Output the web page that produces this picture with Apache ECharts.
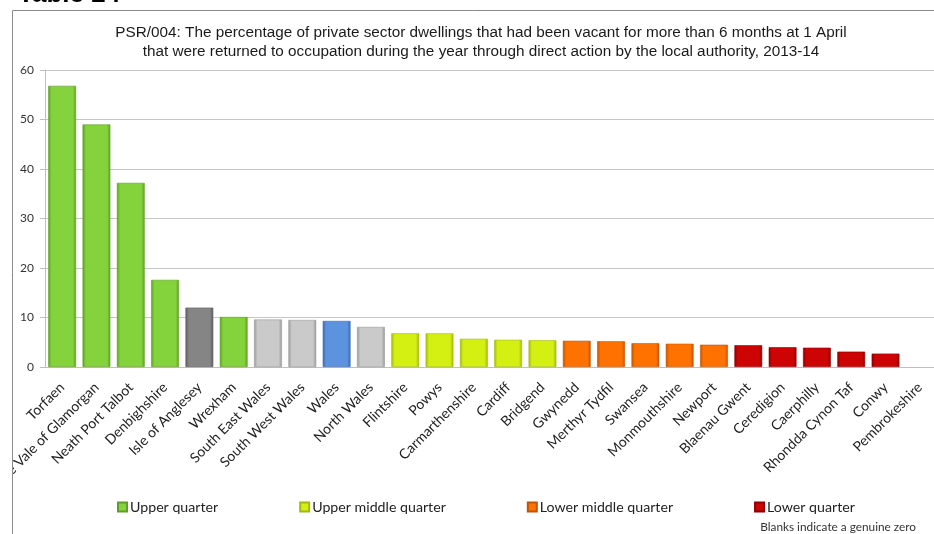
<!DOCTYPE html>
<html>
<head>
<meta charset="utf-8">
<script src="https://cdn.jsdelivr.net/npm/echarts@6/dist/echarts.min.js"></script>
<style>
  html, body { margin: 0; padding: 0; background: #fff; }
  #chart { width: 934px; height: 534px; }
</style>
</head>
<body>
<div id="chart"></div>
<script>
// Local authorities and regional aggregates, sorted by value
const categories = [
  'Torfaen', 'The Vale of Glamorgan', 'Neath Port Talbot', 'Denbighshire', 'Isle of Anglesey',
  'Wrexham', 'South East Wales', 'South West Wales', 'Wales', 'North Wales',
  'Flintshire', 'Powys', 'Carmarthenshire', 'Cardiff', 'Bridgend',
  'Gwynedd', 'Merthyr Tydfil', 'Swansea', 'Monmouthshire', 'Newport',
  'Blaenau Gwent', 'Ceredigion', 'Caerphilly', 'Rhondda Cynon Taf', 'Conwy',
  'Pembrokeshire'
];

// Percentage returned to occupation, 2013-14
const values = [
  56.8, 49.0, 37.2, 17.6, 12.0,
  10.1, 9.6, 9.5, 9.3, 8.1,
  6.8, 6.8, 5.7, 5.5, 5.4,
  5.3, 5.2, 4.8, 4.7, 4.5,
  4.4, 4.0, 3.9, 3.1, 2.7,
  0
];

// Quarter / grouping of each bar
const groups = [
  'Upper quarter', 'Upper quarter', 'Upper quarter', 'Upper quarter', 'Isle grey',
  'Upper quarter', 'Region', 'Region', 'Wales', 'Region',
  'Upper middle quarter', 'Upper middle quarter', 'Upper middle quarter', 'Upper middle quarter', 'Upper middle quarter',
  'Lower middle quarter', 'Lower middle quarter', 'Lower middle quarter', 'Lower middle quarter', 'Lower middle quarter',
  'Lower quarter', 'Lower quarter', 'Lower quarter', 'Lower quarter', 'Lower quarter',
  'Lower quarter'
];

const legendNames = ['Upper quarter', 'Upper middle quarter', 'Lower middle quarter', 'Lower quarter'];
const yTicks = [0, 10, 20, 30, 40, 50, 60];

const groupColors = {
  'Upper quarter':        ['#84d23c', '#5e9f22'],
  'Upper middle quarter': ['#d4f012', '#a3b80a'],
  'Lower middle quarter': ['#ff7200', '#c25400'],
  'Lower quarter':        ['#cc0404', '#8e0000'],
  'Isle grey':            ['#858585', '#5c5c5c'],
  'Region':               ['#cacaca', '#999999'],
  'Wales':                ['#5b93de', '#3a6aae']
};

function bevel(main, dark) {
  return new echarts.graphic.LinearGradient(0, 0, 1, 0, [
    { offset: 0, color: dark },
    { offset: 0.12, color: main },
    { offset: 0.88, color: main },
    { offset: 1, color: dark }
  ]);
}

const seriesOrder = ['Upper quarter', 'Upper middle quarter', 'Lower middle quarter', 'Lower quarter', 'Isle grey', 'Region', 'Wales'];
const series = seriesOrder.map(g => ({
  name: g,
  type: 'bar',
  stack: 'all',
  barCategoryGap: '19%',
  data: values.map((v, i) => groups[i] === g && v > 0 ? v : '-'),
  itemStyle: {
    color: bevel(groupColors[g][0], groupColors[g][1]),
    borderColor: groupColors[g][1],
    borderWidth: 0.6
  }
}));

const chart = echarts.init(document.getElementById('chart'), null, { renderer: 'canvas' });
chart.setOption({
  animation: false,
  backgroundColor: '#ffffff',
  title: {
    text: 'PSR/004: The percentage of private sector dwellings that had been vacant for more than 6 months at 1 April\nthat were returned to occupation during the year through direct action by the local authority, 2013-14',
    left: 481,
    top: 23,
    textAlign: 'center',
    padding: 0,
    textStyle: {
      fontFamily: 'Liberation Sans',
      fontSize: 15.3,
      fontWeight: 'normal',
      color: '#1a1a1a',
      lineHeight: 19.5
    }
  },
  legend: {
    data: legendNames.map(n => ({ name: n, icon: 'rect' })),
    left: 117,
    top: 500,
    padding: 0,
    itemWidth: 9,
    itemHeight: 9,
    itemGap: 81,
    textStyle: { fontFamily: 'Lato', fontSize: 14.2, color: '#222', padding: [0, 0, 0, -2] }
  },
  grid: { left: 45, top: 70, width: 892, height: 297, containLabel: false, outerBoundsMode: 'none' },
  xAxis: {
    type: 'category',
    data: categories,
    axisLine: { lineStyle: { color: '#bfbfbf' } },
    axisTick: { show: false },
    axisLabel: {
      interval: 0,
      rotate: 45,
      margin: 18,
      fontFamily: 'Lato',
      fontSize: 14,
      color: '#222'
    }
  },
  yAxis: {
    type: 'value',
    min: yTicks[0],
    max: yTicks[yTicks.length - 1],
    interval: 10,
    axisLine: { show: true, lineStyle: { color: '#bfbfbf' } },
    axisTick: { show: true, length: 5, lineStyle: { color: '#bfbfbf' } },
    axisLabel: { fontFamily: 'Lato', fontSize: 12, color: '#333', margin: 11 },
    splitLine: { lineStyle: { color: '#c6c6c6' } }
  },
  series: series,
  graphic: [
    {
      type: 'text', left: 18, top: -18, z: 10,
      style: { text: 'Table 24', font: 'bold 26px "Liberation Sans"', fill: '#000' }
    },
    {
      type: 'rect', z: 99, silent: true,
      shape: { x: 0, y: 11, width: 12, height: 530 },
      style: { fill: '#ffffff' }
    },
    {
      type: 'rect', z: 100, silent: true,
      shape: { x: 12.5, y: 10.5, width: 1000, height: 600 },
      style: { fill: null, stroke: '#8a8a8a', lineWidth: 1 }
    },
    {
      type: 'text', right: 18, top: 521, z: 10,
      style: { text: 'Blanks indicate a genuine zero', font: '11.8px Lato', fill: '#333' }
    }
  ]
});
</script>
</body>
</html>
